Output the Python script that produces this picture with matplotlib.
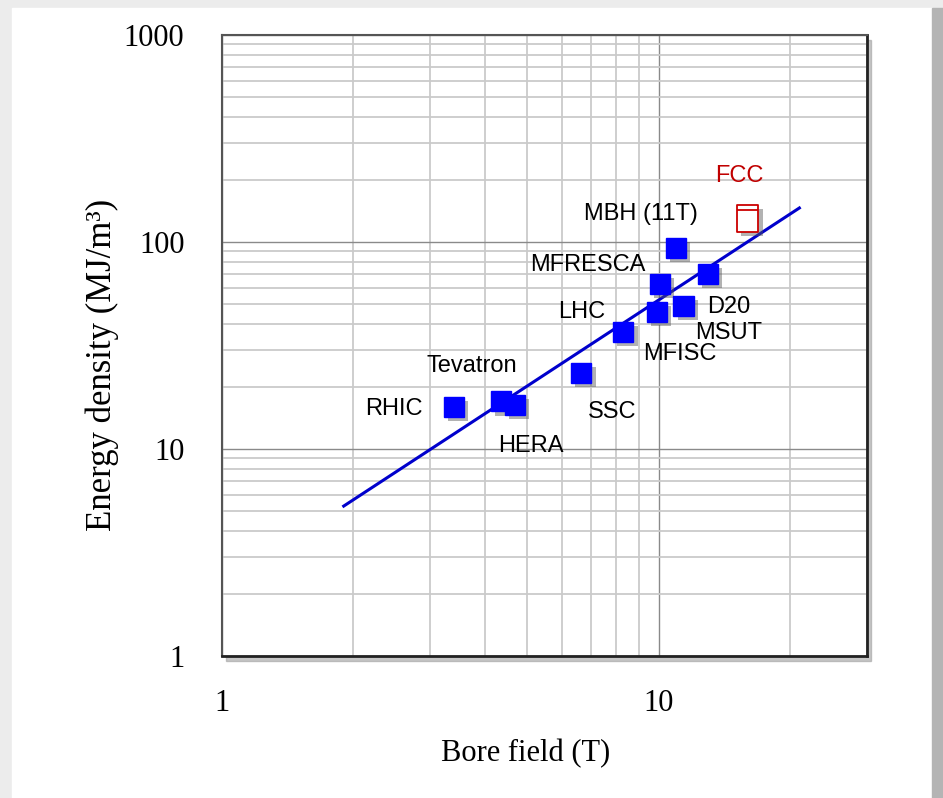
import numpy as np
import matplotlib
matplotlib.use("Agg")
import matplotlib.pyplot as plt
import matplotlib.patheffects as pe
from matplotlib.patches import Rectangle
from matplotlib.path import Path

# magnets: bore field (T) vs stored energy density (MJ/m^3)
names = ["RHIC", "Tevatron", "HERA", "SSC", "LHC", "MFISC", "MFRESCA",
         "MBH (11T)", "D20", "MSUT"]
field = [3.4, 4.36, 4.68, 6.65, 8.3, 9.9, 10.05, 10.95, 11.4, 12.95]
energy = [16.0, 17.0, 16.3, 23.3, 36.7, 46.0, 62.5, 93.5, 49.0, 70.0]

fcc_field = [16.0]
fcc_energy = [130.0]

# fitted trend line end points
fit_field = [1.9, 21.0]
fit_energy = [5.3, 146.0]

xticks = [1, 10]
yticks = [1, 10, 100, 1000]

# label offsets from each marker, in pixels
offsets = {"RHIC": (-60, -2), "Tevatron": (-29, 35), "HERA": (16, -41),
           "SSC": (31, -39), "LHC": (-42, 20), "MFISC": (23, -42),
           "MFRESCA": (-72, 19), "MBH (11T)": (-35, 34), "D20": (45, -1),
           "MSUT": (21, -59)}

fig = plt.figure(figsize=(9.43, 7.98), dpi=100)
fig.patch.set_facecolor("#ececec")
# white slide area with grey right edge
fig.patches.append(Rectangle((12 / 943, 0), 920 / 943, 1 - 8 / 798,
                             transform=fig.transFigure, color="white", zorder=0))
fig.patches.append(Rectangle((932 / 943, 0), 11 / 943, 1 - 8 / 798,
                             transform=fig.transFigure, color="#b4b4b4", zorder=0))

ax = fig.add_axes([222 / 943, 1 - 656 / 798, 645 / 943, 621 / 798])
# drop shadow of the plot frame
fig.patches.append(Rectangle((226 / 943, 1 - 661 / 798), 645 / 943, 621 / 798,
                             transform=fig.transFigure, color="#a0a0a0",
                             alpha=0.6, zorder=0.5))
ax.set_zorder(1)

ax.set_xscale("log")
ax.set_yscale("log")
ax.set_xlim(1, 30)
ax.set_ylim(1, 1000)

ax.set_xticks(xticks)
ax.set_xticklabels([str(t) for t in xticks])
ax.set_yticks(yticks)
ax.set_yticklabels([str(t) for t in yticks])
ax.xaxis.set_minor_locator(matplotlib.ticker.LogLocator(base=10, subs=np.arange(2, 10)))
ax.yaxis.set_minor_locator(matplotlib.ticker.LogLocator(base=10, subs=np.arange(2, 10)))
ax.xaxis.set_minor_formatter(matplotlib.ticker.NullFormatter())
ax.yaxis.set_minor_formatter(matplotlib.ticker.NullFormatter())
ax.tick_params(which="both", length=0)
ax.tick_params(axis="x", pad=24, labelsize=22)
ax.tick_params(axis="y", pad=27, labelsize=22)
for lab in ax.get_xticklabels() + ax.get_yticklabels():
    lab.set_family("Liberation Serif")

ax.grid(True, which="major", color="#8a8a8a", linewidth=1.0)
ax.grid(True, which="minor", color="#cacaca", linewidth=1.3)
ax.set_axisbelow(True)
for side in ["left", "top"]:
    ax.spines[side].set_color("#555555")
    ax.spines[side].set_linewidth(1.5)
for side in ["right", "bottom"]:
    ax.spines[side].set_color("#222222")
    ax.spines[side].set_linewidth(2)

ax.plot(fit_field, fit_energy, color="#0000cc", linewidth=2.2, zorder=3)

shadow = [pe.SimplePatchShadow(offset=(3, -3), shadow_rgbFace="#555555", alpha=0.45),
          pe.Normal()]
ax.plot(field, energy, "s", color="#0000ff", markersize=14.5, linestyle="none",
        zorder=4, path_effects=shadow)

# FCC: hollow box with a bar near its top
box = Path([(-0.4, -0.5), (0.4, -0.5), (0.4, 0.5), (-0.4, 0.5), (-0.4, -0.5),
            (-0.4, 0.33), (0.4, 0.33)],
           [Path.MOVETO, Path.LINETO, Path.LINETO, Path.LINETO, Path.CLOSEPOLY,
            Path.MOVETO, Path.LINETO])
ax.plot(fcc_field, fcc_energy, marker=box, markersize=19, markerfacecolor="white",
        markeredgecolor="#cc0000", markeredgewidth=1.3, linestyle="none", zorder=4,
        path_effects=shadow)

for n, x, y in zip(names, field, energy):
    dx, dy = offsets[n]
    ax.annotate(n, (x, y), xytext=(dx, dy), textcoords="offset pixels",
                ha="center", va="center", fontsize=17,
                family="Liberation Sans", color="black", zorder=5)
ax.annotate("FCC", (fcc_field[0], fcc_energy[0]), xytext=(-8, 42),
            textcoords="offset pixels", ha="center", va="center", fontsize=17,
            family="Liberation Sans", color="#c00000", zorder=5)

ax.set_xlabel("Bore field (T)", fontsize=22, family="Liberation Serif")
ax.xaxis.set_label_coords(0.470, -0.133)
ax.set_ylabel("Energy density (MJ/m³)", fontsize=25, family="Liberation Serif")
ax.yaxis.set_label_coords(-0.16, 0.469)

fig.savefig("out.png", dpi=100)
